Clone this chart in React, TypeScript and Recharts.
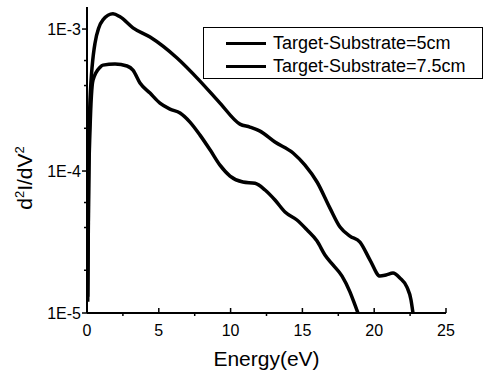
import React from 'react';
import { LineChart, Line, XAxis, YAxis, Legend } from 'recharts';

// Energy (eV) and d2I/dV2
const energy5 = [0.05, 0.14, 0.21, 0.56, 1.11, 1.81, 2.3, 3.2, 4.39, 6.27, 7.87, 9.26, 10.65, 11.35, 12.05, 13.09, 14.35, 15.18, 16.02, 16.92, 17.62, 18.31, 19.01, 19.71, 20.4, 20.82, 21.31, 21.8, 22.28, 22.56, 22.7];
const value5 = [1.3e-5, 1.41e-4, 3.16e-4, 7.97e-4, 1.16e-3, 1.28e-3, 1.22e-3, 1.02e-3, 8.78e-4, 6.25e-4, 4.3e-4, 3.01e-4, 2.14e-4, 2.04e-4, 1.91e-4, 1.6e-4, 1.34e-4, 1.1e-4, 8.37e-5, 5.48e-5, 4.03e-5, 3.48e-5, 3.16e-5, 2.36e-5, 1.82e-5, 1.85e-5, 1.91e-5, 1.76e-5, 1.52e-5, 1.24e-5, 1.0e-5];

const energy75 = [0.05, 0.1, 0.21, 0.42, 0.91, 1.11, 1.95, 2.79, 3.2, 3.69, 4.39, 5.08, 5.78, 6.48, 7.17, 7.87, 8.57, 9.26, 9.96, 10.86, 11.7, 12.4, 13.09, 13.79, 14.62, 15.32, 16.02, 16.57, 17.13, 17.76, 18.31, 18.66, 18.87];
const value75 = [1.2e-5, 6.25e-5, 1.95e-4, 4.37e-4, 5.39e-4, 5.57e-4, 5.67e-4, 5.49e-4, 5.14e-4, 4.17e-4, 3.54e-4, 3.01e-4, 2.73e-4, 2.56e-4, 2.21e-4, 1.79e-4, 1.41e-4, 1.1e-4, 9.22e-5, 8.37e-5, 8.2e-5, 7.35e-5, 6.25e-5, 5.14e-5, 4.52e-5, 3.85e-5, 3.21e-5, 2.56e-5, 2.18e-5, 1.82e-5, 1.41e-5, 1.14e-5, 1.0e-5];

const seriesNames = ['Target-Substrate=5cm', 'Target-Substrate=7.5cm'];

const xMajorTicks = [0, 5, 10, 15, 20, 25];
const xMinorTicks = [2.5, 7.5, 12.5, 17.5, 22.5];
const yMajorTicks = [1e-5, 1e-4, 1e-3];
const yMajorLabels = ['1E-5', '1E-4', '1E-3'];
const yMinorTicks = [2e-5, 3e-5, 4e-5, 5e-5, 6e-5, 7e-5, 8e-5, 9e-5, 2e-4, 3e-4, 4e-4, 5e-4, 6e-4, 7e-4, 8e-4, 9e-4];

const data5 = energy5.map((e, i) => ({ e, v: value5[i] }));
const data75 = energy75.map((e, i) => ({ e, v: value75[i] }));

const FONT = '"Liberation Sans", Arial, sans-serif';

const XTick = (props: any) => {
  const { x, y, payload } = props;
  const major = xMajorTicks.includes(payload.value);
  return (
    <g>
      {major ? (
        <line x1={x} x2={x} y1={y} y2={y - 5} stroke="#000" strokeWidth={1.5} />
      ) : (
        <line x1={x} x2={x} y1={y} y2={y + 3} stroke="#000" strokeWidth={1.5} />
      )}
      {major && (
        <text x={x} y={y + 23} textAnchor="middle" fontSize={16} fontFamily={FONT} fill="#000">
          {payload.value}
        </text>
      )}
    </g>
  );
};

const YTick = (props: any) => {
  const { x, y, payload } = props;
  const idx = yMajorTicks.findIndex((t) => Math.abs(Math.log10(t) - Math.log10(payload.value)) < 1e-6);
  const major = idx >= 0;
  return (
    <g>
      <line x1={x - (major ? 5 : 3)} x2={x} y1={y} y2={y} stroke="#000" strokeWidth={1.5} />
      {major && (
        <text x={x - 6} y={y + 6} textAnchor="end" fontSize={16} fontFamily={FONT} fill="#000">
          {yMajorLabels[idx]}
        </text>
      )}
    </g>
  );
};

const LegendBox = () => (
  <div
    style={{
      border: '1px solid #000',
      background: '#fff',
      width: 280,
      height: 52,
      boxSizing: 'border-box',
      fontFamily: FONT,
      fontSize: 18,
      color: '#000',
      paddingTop: 4,
    }}
  >
    {seriesNames.map((n) => (
      <div key={n} style={{ display: 'flex', alignItems: 'center', height: 22, marginBottom: 1 }}>
        <div style={{ width: 40, height: 3, background: '#000', marginLeft: 22, marginRight: 7 }} />
        <span>{n}</span>
      </div>
    ))}
  </div>
);

export default function App() {
  return (
    <div style={{ position: 'absolute', left: 0, top: 0, width: 483, height: 372, background: '#fff' }}>
      <LineChart width={483} height={372} margin={{ top: 7, right: 37, left: 0, bottom: 0 }}>
        <XAxis
          type="number"
          dataKey="e"
          domain={[0, 25]}
          ticks={[...xMajorTicks, ...xMinorTicks].sort((a, b) => a - b)}
          tick={<XTick />}
          tickSize={0}
          tickMargin={0}
          height={59}
          stroke="#000"
          strokeWidth={2}
          allowDataOverflow
          label={{ value: 'Energy(eV)', position: 'insideBottom', offset: 6, fontSize: 21, fontFamily: FONT, fill: '#000' }}
        />
        <YAxis
          type="number"
          dataKey="v"
          scale="log"
          domain={[1e-5, 1.43e-3]}
          allowDataOverflow
          ticks={[...yMajorTicks, ...yMinorTicks].sort((a, b) => a - b)}
          tick={<YTick />}
          tickSize={0}
          tickMargin={0}
          width={87}
          stroke="#000"
          strokeWidth={2}
          label={() => (
            <text
              x={0}
              y={0}
              transform="translate(32 178) rotate(-90)"
              textAnchor="middle"
              fontSize={21}
              fontFamily={FONT}
              fill="#000"
            >
              d<tspan fontSize={13} dy={-8}>2</tspan>
              <tspan dy={8}>I/dV</tspan>
              <tspan fontSize={13} dy={-8}>2</tspan>
            </text>
          )}
        />
        <Legend
          layout="horizontal"
          verticalAlign="middle"
          align="center"
          content={<LegendBox />}
          wrapperStyle={{ position: 'absolute', left: 203, top: 27, width: 280 }}
        />
        <Line
          data={data5}
          dataKey="v"
          name={seriesNames[0]}
          type="monotone"
          stroke="#000"
          strokeWidth={3.5}
          dot={false}
          isAnimationActive={false}
        />
        <Line
          data={data75}
          dataKey="v"
          name={seriesNames[1]}
          type="monotone"
          stroke="#000"
          strokeWidth={3.5}
          dot={false}
          isAnimationActive={false}
        />
      </LineChart>
    </div>
  );
}
